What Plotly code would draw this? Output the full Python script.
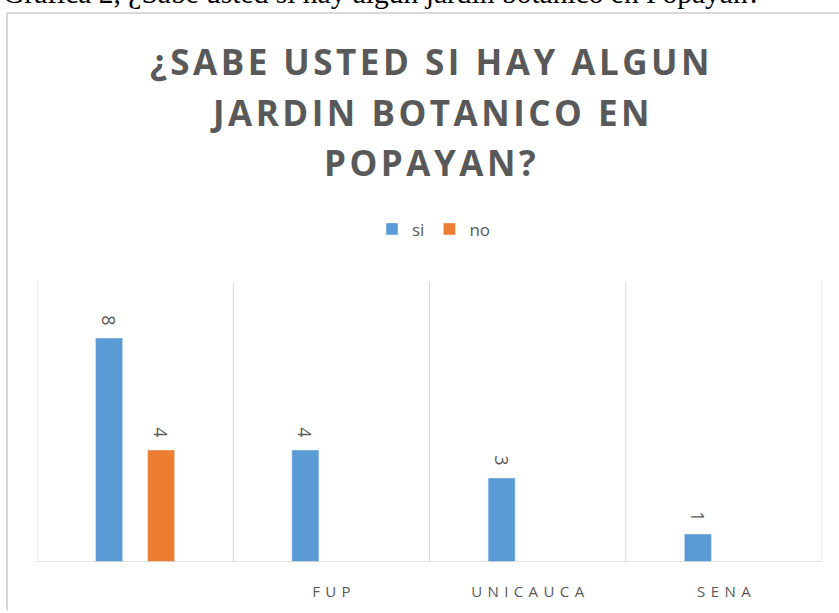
import plotly.graph_objects as go

categories = ["", "FUP", "UNICAUCA", "SENA"]
si_values = [8, 4, 3, 1]
no_values = [4, None, None, None]
series_names = ["si", "no"]

W, H = 839, 613
L, T = 37, 282
pw, ph = 785, 282
R = W - L - pw
B = H - T - ph

def px_x(p):
    return (p - L) / pw

def px_y(p):
    return (T + ph - p) / ph

def spaced(s, sep="\u2009"):
    return sep.join(s)

x_pos = list(range(len(categories)))
label_font = dict(family="Open Sans", size=18, color="#595959")

fig = go.Figure()
fig.add_trace(go.Bar(
    name=series_names[0], x=x_pos, y=si_values, marker_color="#5b9bd5",
    text=[f"{v}\u00a0\u00a0" for v in si_values], textposition="outside", textangle=90,
    textfont=label_font, cliponaxis=False,
))
fig.add_trace(go.Bar(
    name=series_names[1], x=x_pos, y=no_values, marker_color="#ed7d31",
    text=[(f"{v}\u00a0\u00a0" if v is not None else "") for v in no_values],
    textposition="outside", textangle=90,
    textfont=label_font, cliponaxis=False,
))

shapes = []
for i in range(len(categories) + 1):
    shapes.append(dict(type="line", xref="x", yref="y", x0=i - 0.5, x1=i - 0.5, y0=0, y1=10,
                       line=dict(color="#d9d9d9", width=1), layer="below"))
shapes.append(dict(type="line", xref="x", yref="y", x0=-0.5, x1=len(categories) - 0.5, y0=0, y1=0,
                   line=dict(color="#d9d9d9", width=1.5), layer="above"))
# outer chart border (top and left edges visible)
shapes.append(dict(type="line", xref="paper", yref="paper",
                   x0=px_x(7), x1=px_x(839), y0=px_y(11), y1=px_y(11),
                   line=dict(color="#d9d9d9", width=2)))
shapes.append(dict(type="line", xref="paper", yref="paper",
                   x0=px_x(7), x1=px_x(7), y0=px_y(11), y1=px_y(613),
                   line=dict(color="#d9d9d9", width=2)))

title_lines = ["¿SABE USTED SI HAY ALGUN", "JARDIN BOTANICO EN", "POPAYAN?"]
title_y = [60, 111, 162]

annotations = [
    dict(text="Gráfica 2, ¿Sabe usted si hay algún jardín botánico en Popayán?",
         xref="paper", yref="paper", x=px_x(1), y=px_y(9), xanchor="left", yanchor="bottom",
         showarrow=False, font=dict(family="Liberation Serif", size=29.5, color="#000000")),
]
for line, yy in zip(title_lines, title_y):
    annotations.append(dict(text="<b>" + spaced(line, "\u200a") + "</b>",
                            xref="paper", yref="paper", x=px_x(430), y=px_y(yy),
                            xanchor="center", yanchor="middle", showarrow=False,
                            font=dict(family="Open Sans", size=35, color="#595959")))

fig.update_layout(
    width=W, height=H, margin=dict(l=L, r=R, t=T, b=B, pad=0),
    paper_bgcolor="white", plot_bgcolor="white",
    barmode="group", bargap=0.47, bargroupgap=0.48,
    showlegend=True,
    legend=dict(orientation="h", x=px_x(434), y=px_y(229), xanchor="center", yanchor="middle",
                font=dict(family="Open Sans", size=17, color="#595959"), itemwidth=30,
                traceorder="normal"),
    xaxis=dict(tickmode="array", tickvals=x_pos,
               ticktext=[spaced(c, " \u200a") for c in categories],
               range=[-0.5, len(categories) - 0.5], showgrid=False, zeroline=False, showline=False,
               ticks="", tickfont=dict(family="Open Sans", size=15, color="#595959"),
               ticklabelstandoff=19),
    yaxis=dict(range=[0, 10], showgrid=False, zeroline=False, showline=False, showticklabels=False,
               ticks=""),
    shapes=shapes, annotations=annotations,
)

fig.write_html("out.html", config={"displayModeBar": False},
               post_script="document.body.style.margin='0px';")
